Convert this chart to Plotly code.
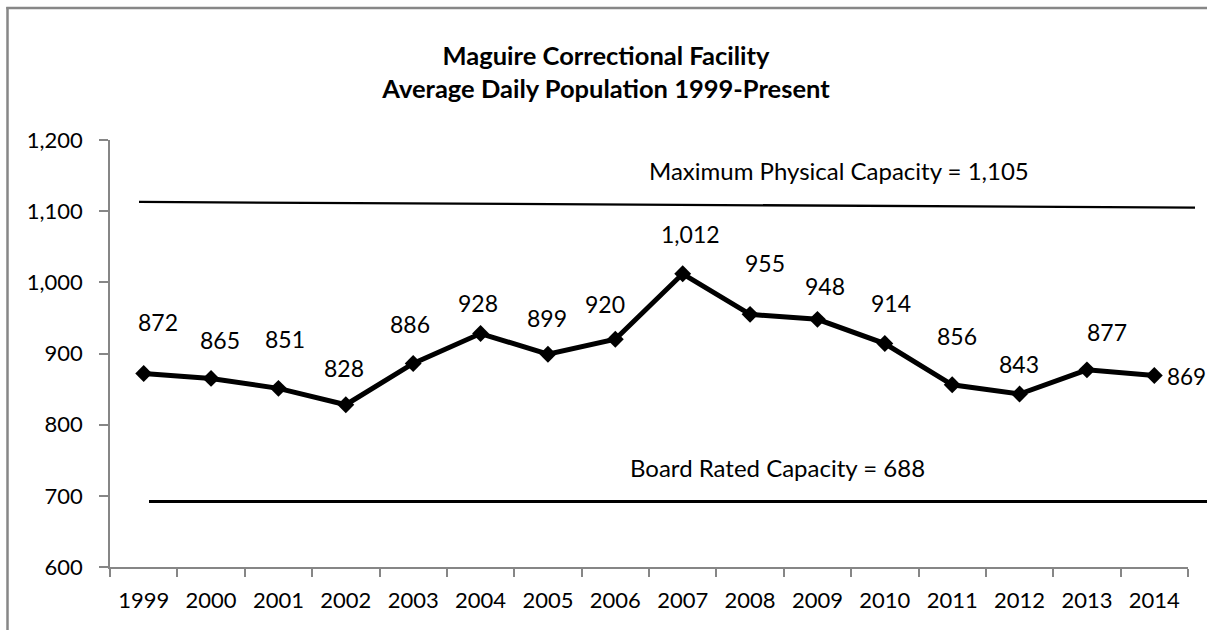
import plotly.graph_objects as go

# ---- data ----
years = ["1999", "2000", "2001", "2002", "2003", "2004", "2005", "2006",
         "2007", "2008", "2009", "2010", "2011", "2012", "2013", "2014"]
population = [872, 865, 851, 828, 886, 928, 899, 920,
              1012, 955, 948, 914, 856, 843, 877, 869]
max_capacity = 1105
board_capacity = 688
max_line_y = [1113, 1105]      # drawn line ends
board_line_y = [692, 692]
y_ticks = [600, 700, 800, 900, 1000, 1100, 1200]

# ---- label nudges (pixels, layout only) ----
label_shift = [(14, 51), (9, 38), (7, 49), (-2, 37), (-3, 39), (-3, 31),
               (-1, 36), (-10, 35), (8, 40), (15, 51), (8, 33), (6, 41),
               (5, 49), (-1, 30), (20, 38), (11, -1)]

FONT = "Lato"
W, H = 1207, 630
ML, MR, MT, MB = 110, 19, 140, 63
PW, PH = W - ML - MR, H - MT - MB


def px_x(p):
    return (p - ML) / PW


def px_y(p):
    return (H - MB - p) / PH


fig = go.Figure()
fig.add_trace(go.Scatter(
    x=list(range(len(years))), y=population, mode="lines+markers",
    line=dict(color="black", width=5),
    marker=dict(symbol="diamond", size=13, color="black"),
    hoverinfo="skip", showlegend=False, cliponaxis=False,
))

annotations = []
for i, (v, (dx, dy)) in enumerate(zip(population, label_shift)):
    last = i == len(population) - 1
    annotations.append(dict(
        x=i, y=v, xref="x", yref="y", text=f"{v:,}", showarrow=False,
        xshift=dx, yshift=dy, xanchor="left" if last else "center",
        yanchor="middle", font=dict(family=FONT, size=23 if not last else 22.5,
                                    color="black"),
    ))

annotations.append(dict(
    x=px_x(839), y=px_y(170), xref="paper", yref="paper",
    text=f"Maximum Physical Capacity = {max_capacity:,}", showarrow=False,
    xanchor="center", yanchor="middle",
    font=dict(family=FONT, size=24, color="black"),
))
annotations.append(dict(
    x=px_x(777), y=px_y(467), xref="paper", yref="paper",
    text=f"Board Rated Capacity = {board_capacity:,}", showarrow=False,
    xanchor="center", yanchor="middle",
    font=dict(family=FONT, size=24, color="black"),
))

frame = dict(color="#878787", width=2.5)
shapes = [
    # chart frame (only left and top edges are visible in the picture)
    dict(type="line", xref="paper", yref="paper",
         x0=px_x(7.5), x1=px_x(7.5), y0=px_y(7), y1=px_y(640), line=frame,
         layer="below"),
    dict(type="line", xref="paper", yref="paper",
         x0=px_x(6.3), x1=px_x(1220), y0=px_y(8), y1=px_y(8), line=frame,
         layer="below"),
    dict(type="line", xref="paper", yref="y",
         x0=px_x(139), x1=px_x(1195), y0=max_line_y[0], y1=max_line_y[1],
         line=dict(color="black", width=2.3)),
    dict(type="line", xref="paper", yref="y",
         x0=px_x(149), x1=px_x(1215), y0=board_line_y[0], y1=board_line_y[1],
         line=dict(color="black", width=3)),
]

fig.update_layout(
    width=W, height=H,
    margin=dict(l=ML, r=MR, t=MT, b=MB),
    paper_bgcolor="white", plot_bgcolor="white",
    title=dict(
        text="Maguire Correctional Facility<br>Average Daily Population 1999-Present",
        x=606 / W, xanchor="center", y=1 - 65 / H, yanchor="middle",
        yref="container",
        font=dict(family=FONT, size=25.5, color="black", weight="bold"),
    ),
    xaxis=dict(
        type="linear", range=[-0.5, len(years) - 0.5],
        tickmode="array", tickvals=list(range(len(years))), ticktext=years,
        showgrid=False, zeroline=False, showline=True,
        linecolor="#868686", linewidth=1.5,
        ticks="", tickfont=dict(family=FONT, size=22, color="black"),
        ticklabelstandoff=13,
        minor=dict(tickmode="array",
                   tickvals=[i - 0.5 for i in range(len(years) + 1)],
                   ticks="outside", ticklen=8, tickcolor="#868686",
                   tickwidth=1.5, showgrid=False),
    ),
    yaxis=dict(
        range=[600, 1200], tickmode="array", tickvals=y_ticks,
        tickformat=",d", showgrid=False, zeroline=False, showline=True,
        linecolor="#868686", linewidth=1.5,
        ticks="outside", ticklen=9, tickcolor="#868686", tickwidth=1.5,
        tickfont=dict(family=FONT, size=22, color="black"),
        ticklabelstandoff=12,
    ),
    shapes=shapes, annotations=annotations,
)

fig.write_html(
    "out.html",
    config={"displayModeBar": False},
    post_script="document.body.style.margin='0';document.body.style.overflow='hidden';",
)
